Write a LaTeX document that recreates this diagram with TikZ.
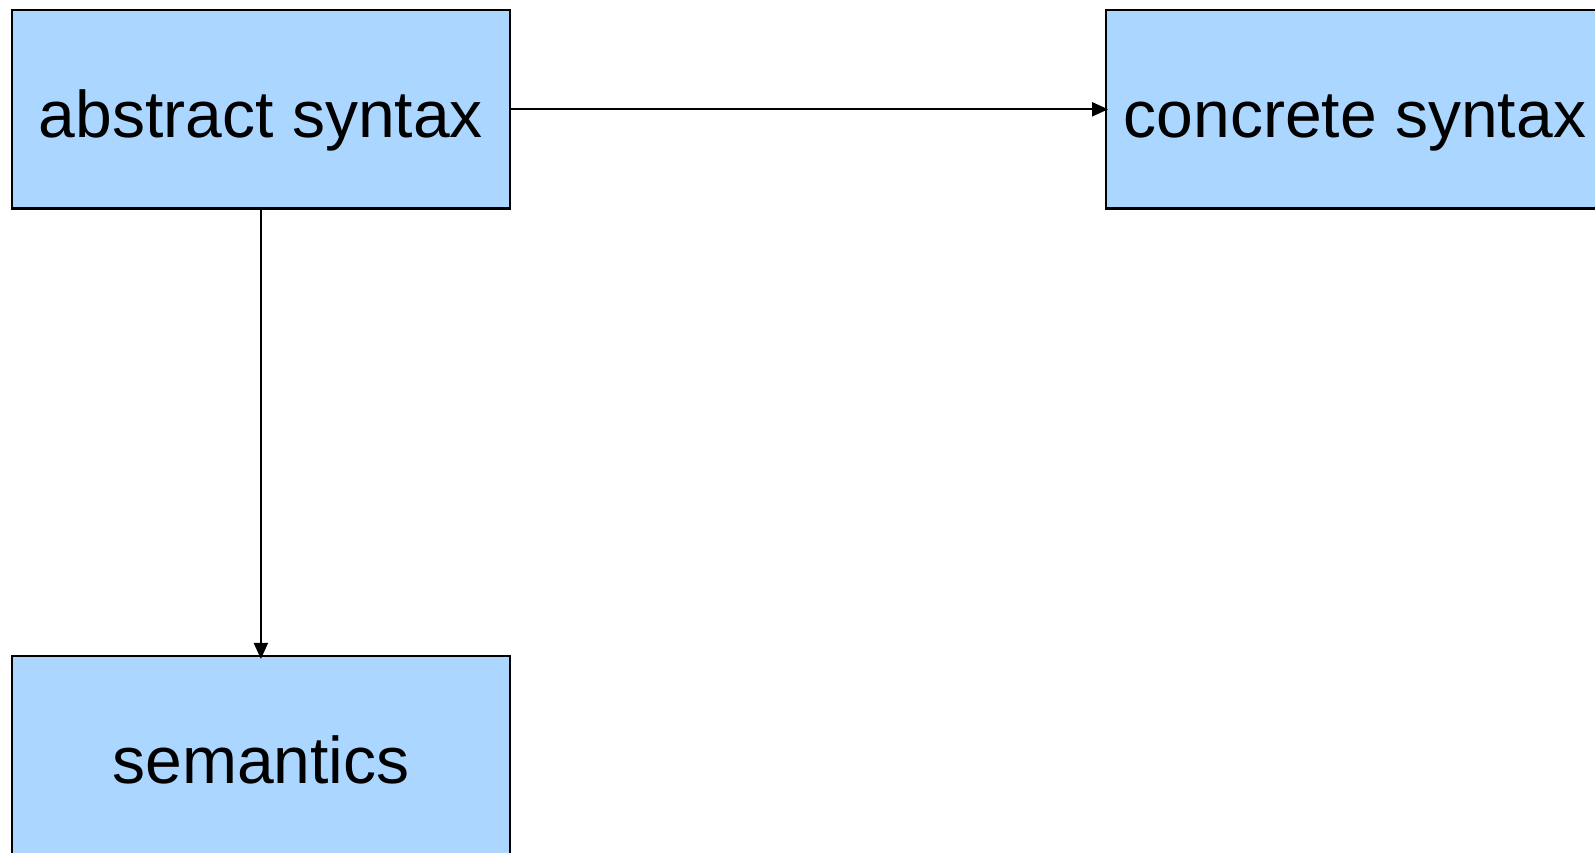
\documentclass[tikz,border=0pt]{standalone}
\usepackage{fontspec}
\setmainfont{Liberation Sans}
\usetikzlibrary{arrows.meta}
\definecolor{boxblue}{RGB}{170,214,255}
\begin{document}
\begin{tikzpicture}[x=1pt,y=-1pt,
  block/.style={draw=black, line width=2.2pt, fill=boxblue, rectangle,
    minimum width=497.6pt, minimum height=198.3pt, inner sep=0pt,
    text height=56pt, text depth=0pt,
    font=\fontsize{66}{79}\selectfont},
  link/.style={line width=2pt, -{Triangle[length=16pt,width=14pt]}}]
  \useasboundingbox (0,0) rectangle (1595,852);
  \clip (0,0) rectangle (1595,852);
  \fill[white] (0,0) rectangle (1595,852);
  \node[block] (abs) at (260.9,109.3) {abstract syntax};
  \node[block] (con) at (1355.0,109.3) {concrete syntax};
  \node[block] (sem) at (260.9,755.2) {semantics};
  \draw[link] (abs.east) -- ([xshift=3pt]con.west);
  \draw[link] (abs.south) -- ([yshift=-4pt]sem.north);
\end{tikzpicture}
\end{document}
